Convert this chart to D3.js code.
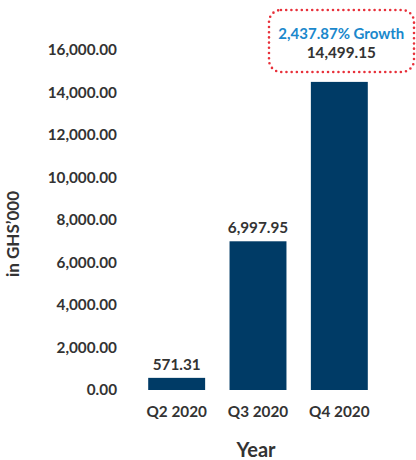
<!DOCTYPE html>
<html><head><meta charset="utf-8">
<script src="https://cdn.jsdelivr.net/npm/d3@7"></script>
<style>body{margin:0;background:#fff}svg{display:block}</style>
</head><body>
<script>
const categories = ["Q2 2020", "Q3 2020", "Q4 2020"];
const values = [571.31, 6997.95, 14499.15];
const valueLabels = ["571.31", "6,997.95", "14,499.15"];
const yTicks = [0, 2000, 4000, 6000, 8000, 10000, 12000, 14000, 16000];
const growthLabel = "2,437.87% Growth";
const yTitle = "in GHS’000";
const xTitle = "Year";

const W = 416, H = 460;
const font = "Lato, 'Open Sans', sans-serif";
const svg = d3.select("body").append("svg").attr("width", W).attr("height", H);

const x = d3.scaleBand().domain(categories).range([136, 380]).paddingInner(0.3).paddingOuter(0.15);
const y = d3.scaleLinear().domain([0, 16000]).range([390, 50]);

const yAxis = svg.append("g").attr("transform", "translate(117,0)")
  .call(d3.axisLeft(y).tickValues(yTicks).tickSize(0).tickPadding(0).tickFormat(d3.format(",.2f")));
yAxis.select(".domain").remove();
yAxis.selectAll("text").attr("font-family", font).attr("font-size", 15.3).attr("font-weight", 700).attr("fill", "#333");

svg.selectAll("rect.bar").data(values).join("rect").attr("class", "bar")
  .attr("x", (d, i) => x(categories[i])).attr("width", x.bandwidth())
  .attr("y", d => y(d)).attr("height", d => y(0) - y(d)).attr("fill", "#003b66");

svg.selectAll("text.val").data(values.slice(0, 2)).join("text").attr("class", "val")
  .attr("x", (d, i) => x(categories[i]) + x.bandwidth() / 2)
  .attr("y", d => y(d) - 8)
  .attr("text-anchor", "middle").attr("font-family", font).attr("font-size", 15.3).attr("font-weight", 700).attr("fill", "#333")
  .text((d, i) => valueLabels[i]);

const cx = x(categories[2]) + x.bandwidth() / 2 + 2;
svg.append("rect").attr("x", 269).attr("y", 10).attr("width", 145).attr("height", 62).attr("rx", 12)
  .attr("fill", "none").attr("stroke", "#e8303a").attr("stroke-width", 2.6)
  .attr("stroke-dasharray", "0 5.2").attr("stroke-linecap", "round");
svg.append("text").attr("x", cx).attr("y", 38.5).attr("text-anchor", "middle")
  .attr("font-family", font).attr("font-size", 15).attr("font-weight", 700).attr("fill", "#1a88cc").text(growthLabel);
svg.append("text").attr("x", cx).attr("y", 57.5).attr("text-anchor", "middle")
  .attr("font-family", font).attr("font-size", 15.3).attr("font-weight", 700).attr("fill", "#333").text(valueLabels[2]);

const xAxis = svg.append("g").attr("transform", "translate(0,406)")
  .call(d3.axisBottom(x).tickSize(0).tickPadding(0));
xAxis.select(".domain").remove();
xAxis.selectAll("text").attr("font-family", font).attr("font-size", 15.3).attr("font-weight", 700).attr("fill", "#333");

svg.append("text").attr("x", 256).attr("y", 457).attr("text-anchor", "middle")
  .attr("font-family", font).attr("font-size", 20).attr("font-weight", 700).attr("fill", "#333").text(xTitle);
svg.append("text").attr("transform", "translate(19,234) rotate(-90)").attr("text-anchor", "middle")
  .attr("font-family", font).attr("font-size", 17).attr("font-weight", 700).attr("fill", "#333").text(yTitle);
</script>
</body></html>
